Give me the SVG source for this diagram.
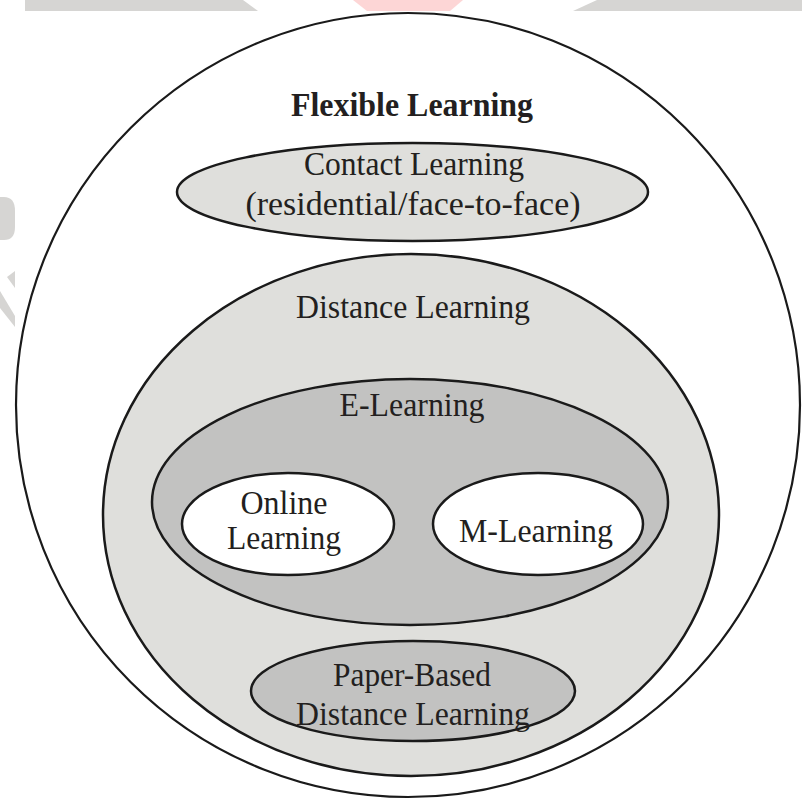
<svg xmlns="http://www.w3.org/2000/svg" width="802" height="800" viewBox="0 0 802 800">
  <style>
    .wm { fill: #d6d5d3; stroke: none; }
    .wmp { fill: #fdd6d6; stroke: none; }
    .shape { stroke: #1a1a1a; stroke-width: 2.5; }
    .outer { fill: #ffffff; stroke: #1a1a1a; stroke-width: 2.2; }
    .light { fill: #dfdfdc; }
    .mid { fill: #c2c2c1; }
    .white { fill: #ffffff; }
    .t { font-family: "Liberation Serif", "Times New Roman", serif; font-size: 34px; fill: #231f20; text-anchor: middle; }
    .b { font-weight: bold; }
  </style>
  <rect width="802" height="800" fill="#ffffff"/>
  <g id="watermark">
    <polygon class="wm" points="25,0 243,0 258,11 25,11"/>
    <polygon class="wmp" points="353,0 463,0 450,11 367,11"/>
    <polygon class="wm" points="597,0 802,0 802,11 573,11"/>
    <path class="wm" d="M0,197 L4,197 Q15,197 15,211 L15,227 Q15,240 4,240 L0,240 Z"/>
    <polygon class="wm" points="7,277 15,271 15,288"/>
    <polygon class="wm" points="0,291 15,316 15,327 0,308"/>
  </g>
  <g id="flexible">
    <ellipse class="outer" cx="408" cy="405" rx="392" ry="392"/>
    <text class="t b" x="412" y="116" textLength="242" lengthAdjust="spacingAndGlyphs">Flexible Learning</text>
  </g>
  <g id="contact">
    <ellipse class="shape light" cx="412.5" cy="192" rx="235.5" ry="49"/>
    <text class="t" x="414" y="175" textLength="220" lengthAdjust="spacingAndGlyphs">Contact Learning</text>
    <text class="t" x="413" y="215" textLength="335" lengthAdjust="spacingAndGlyphs">(residential/face-to-face)</text>
  </g>
  <g id="distance">
    <ellipse class="shape light" cx="411" cy="515" rx="308" ry="261"/>
    <text class="t" x="413" y="318" textLength="234" lengthAdjust="spacingAndGlyphs">Distance Learning</text>
  </g>
  <g id="elearning">
    <ellipse class="shape mid" cx="410" cy="502" rx="258" ry="123"/>
    <text class="t" x="412" y="416" textLength="145" lengthAdjust="spacingAndGlyphs">E-Learning</text>
  </g>
  <g id="online">
    <ellipse class="shape white" cx="288" cy="524" rx="106" ry="51"/>
    <text class="t" x="284" y="514" textLength="87" lengthAdjust="spacingAndGlyphs">Online</text>
    <text class="t" x="284" y="549" textLength="114" lengthAdjust="spacingAndGlyphs">Learning</text>
  </g>
  <g id="mlearning">
    <ellipse class="shape white" cx="538" cy="524" rx="105" ry="51"/>
    <text class="t" x="536" y="542" textLength="154" lengthAdjust="spacingAndGlyphs">M-Learning</text>
  </g>
  <g id="paper">
    <ellipse class="shape mid" cx="413" cy="691" rx="162" ry="50"/>
    <text class="t" x="412" y="686" textLength="158" lengthAdjust="spacingAndGlyphs">Paper-Based</text>
    <text class="t" x="413" y="725" textLength="234" lengthAdjust="spacingAndGlyphs">Distance Learning</text>
  </g>
  <g id="connectors"></g>
</svg>
